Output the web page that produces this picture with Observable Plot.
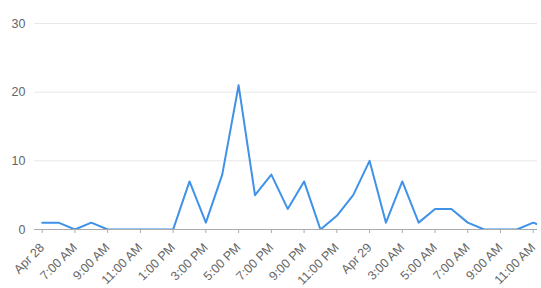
<!DOCTYPE html>
<html>
<head>
<meta charset="utf-8">
<script src="https://cdn.jsdelivr.net/npm/d3@7"></script>
<script src="https://cdn.jsdelivr.net/npm/@observablehq/plot@0.6"></script>
<style>
  html, body { margin: 0; padding: 0; background: #fff; }
  svg { display: block; }
</style>
</head>
<body>
<div id="chart"></div>
<script>
// hours since Apr 28, 5:00 AM
const hours = [0,1,2,3,4,5,6,7,8,9,10,11,12,13,14,15,16,17,18,19,20,21,22,23,24,25,26,27,28,29,30,31];
const counts = [1,1,0,1,0,0,0,0,0,7,1,8,21,5,8,3,7,0,2,5,10,1,7,1,3,3,1,0,0,0,1,0];
const tickHours = [0,2,4,6,8,10,12,14,16,18,20,22,24,26,28,30];
const tickLabels = ["Apr 28","7:00 AM","9:00 AM","11:00 AM","1:00 PM","3:00 PM","5:00 PM","7:00 PM","9:00 PM","11:00 PM","Apr 29","3:00 AM","5:00 AM","7:00 AM","9:00 AM","11:00 AM"];
const yTicks = [0,10,20,30];

const data = hours.map((h, i) => ({h, v: counts[i]}));

const chart = Plot.plot({
  width: 541,
  height: 288,
  marginLeft: 34,
  marginRight: 4,
  marginTop: 23,
  marginBottom: 59,
  style: {fontFamily: "Arial, 'Liberation Sans', sans-serif", fontSize: "12px", color: "#666"},
  x: {domain: [-0.47, 30.26]},
  y: {domain: [0, 30]},
  marks: [
    Plot.gridY(yTicks, {stroke: "#e8e8e8", strokeOpacity: 1}),
    Plot.axisY(yTicks, {tickSize: 0, tickPadding: 9, fontSize: 12.5, fill: "#666", label: null}),
    Plot.ruleY([0], {stroke: "#aaa"}),
    Plot.axisX(tickHours, {
      tickSize: 4, stroke: "#aaa", tickRotate: -45, fontSize: 12.5, fill: "#666", label: null,
      tickFormat: (d) => tickLabels[tickHours.indexOf(d)], tickPadding: 12
    }),
    Plot.lineY(data, {x: "h", y: "v", stroke: "#3f92e8", strokeWidth: 2, clip: true})
  ]
});
document.getElementById("chart").appendChild(chart);
</script>
</body>
</html>
